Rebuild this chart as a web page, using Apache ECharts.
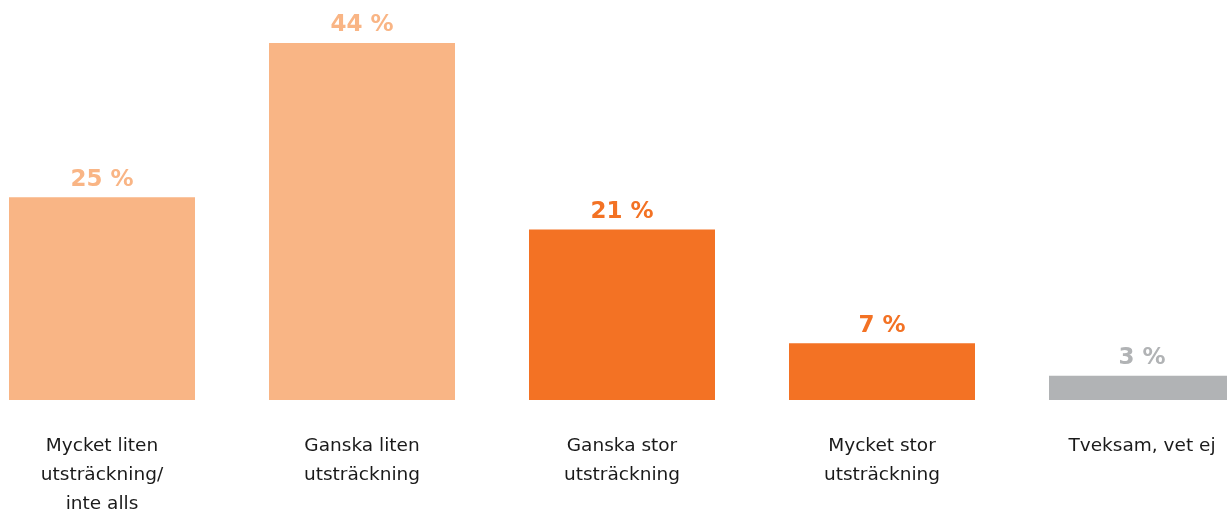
<!DOCTYPE html>
<html>
<head>
<meta charset="utf-8">
<script src="https://cdn.jsdelivr.net/npm/echarts@6/dist/echarts.min.js"></script>
<style>
  html, body { margin: 0; padding: 0; background: #ffffff; }
  #chart { width: 1227px; height: 512px; }
</style>
</head>
<body>
<div id="chart"></div>
<script>
// Answer categories and share of respondents (%)
const categories = [
  'Mycket liten\nutsträckning/\ninte alls',
  'Ganska liten\nutsträckning',
  'Ganska stor\nutsträckning',
  'Mycket stor\nutsträckning',
  'Tveksam, vet ej'
];
const shares = [25, 44, 21, 7, 3];

// Small-extent answers light orange, large-extent strong orange, unsure grey
const palette = ['#F9B585', '#F9B585', '#F37224', '#F37224', '#B1B3B5'];

const chart = echarts.init(document.getElementById('chart'), null, { renderer: 'canvas' });

chart.setOption({
  backgroundColor: '#ffffff',
  animation: false,
  grid: {
    left: -28, right: -45, top: 0, bottom: 112,
    containLabel: false,
    outerBoundsMode: 'none'
  },
  xAxis: {
    type: 'category',
    data: categories,
    axisLine: { show: false },
    axisTick: { show: false },
    axisLabel: {
      interval: 0,
      margin: 32,
      color: '#1a1a1a',
      fontFamily: 'DejaVu Sans',
      fontSize: 18.5,
      lineHeight: 29
    }
  },
  yAxis: {
    type: 'value',
    min: 0,
    max: 49.3,
    show: false,
    splitLine: { show: false }
  },
  series: [{
    type: 'bar',
    data: shares.map((v, i) => ({
      value: v,
      itemStyle: { color: palette[i] },
      label: { color: palette[i] }
    })),
    barWidth: 186,
    label: {
      show: true,
      position: 'top',
      distance: 6,
      formatter: '{c} %',
      fontFamily: 'DejaVu Sans',
      fontWeight: 'bold',
      fontSize: 23
    }
  }]
});
</script>
</body>
</html>
